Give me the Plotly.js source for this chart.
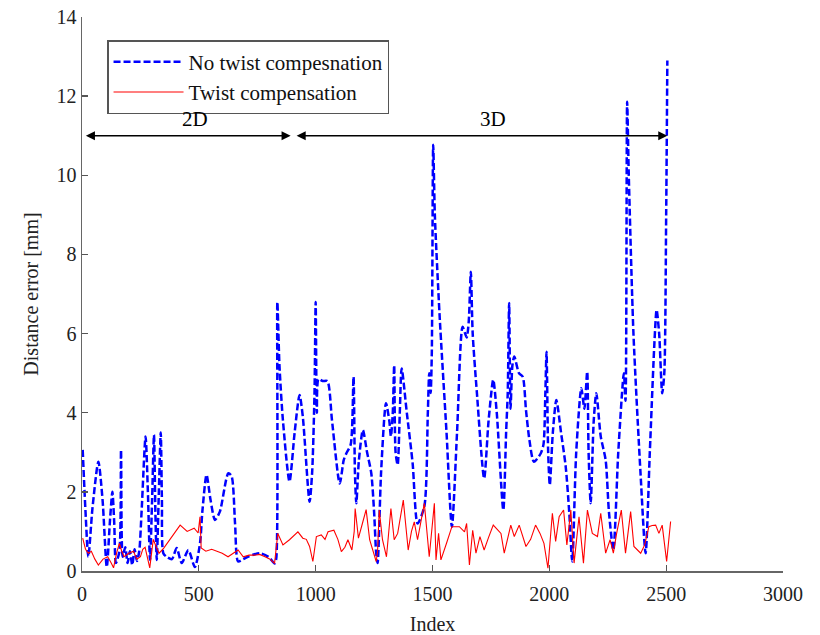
<!DOCTYPE html>
<html>
<head>
<meta charset="utf-8">
<script src="https://cdn.plot.ly/plotly-3.0.1.min.js"></script>
<style>html,body{margin:0;padding:0;background:#fff;}#chart{width:820px;height:635px;}</style>
</head>
<body>
<div id="chart"></div>
<script>
// "No twist compesnation" (blue dashed)
const blueX = [3,15,27,45,70,88,106,120,130,138,145,160,167,174,185,195,205,215,225,235,245,255,272,282,291,300,308,314,320,328,337,342,348,362,385,405,427,455,483,505,515,533,550,569,590,626,640,655,668,690,710,760,800,824,831,836,845,860,888,910,931,945,974,985,995,1000,1005,1012,1030,1050,1070,1103,1120,1131,1150,1162,1168,1174,1185,1202,1220,1238,1250,1259,1265,1280,1301,1315,1322,1330,1336,1342,1351,1360,1368,1390,1415,1436,1465,1480,1486,1492,1497,1503,1510,1530,1560,1583,1605,1629,1646,1655,1664,1672,1690,1721,1740,1760,1775,1803,1815,1822,1828,1834,1842,1850,1870,1886,1900,1915,1934,1963,1975,1983,1988,1995,2002,2015,2030,2050,2070,2085,2098,2115,2137,2150,2162,2168,2177,2190,2201,2220,2241,2255,2274,2295,2319,2326,2333,2340,2360,2390,2412,2430,2450,2459,2470,2483,2492,2500,2505];
const blueY = [3.06,1.5,0.36,1.6,2.76,1.8,0.1,1.3,2.0,1.2,0.2,0.5,3.06,0.36,0.6,0.2,0.5,0.15,0.55,0.25,0.5,1.5,3.4,2.0,0.28,1.8,3.44,1.5,0.28,1.8,3.5,1.8,0.45,0.36,0.3,0.58,0.2,0.53,0.1,0.7,1.5,2.43,1.8,1.29,1.5,2.47,2.4,1.2,0.24,0.3,0.36,0.45,0.35,0.19,0.3,6.8,5.2,3.8,2.26,3.5,4.45,3.9,1.75,2.5,4.5,6.8,4.0,4.85,4.8,4.8,3.8,2.21,2.8,2.97,3.2,4.91,2.5,1.71,2.8,3.56,3.0,2.47,1.5,0.45,0.2,2.5,4.24,3.8,3.4,4.0,5.2,3.0,2.68,4.0,5.12,4.0,2.72,1.2,1.63,4.0,5.0,4.5,5.5,10.77,9.0,6.5,3.5,1.12,3.5,6.17,5.9,6.3,7.56,6.0,4.5,2.34,3.8,4.83,4.0,1.54,3.5,4.5,6.77,4.1,5.2,5.42,5.0,4.91,4.07,3.3,2.76,2.97,3.2,4.5,5.54,3.0,2.17,3.5,4.32,3.5,2.64,1.5,0.24,3.0,4.62,4.1,5.04,3.0,1.71,3.8,4.49,3.4,2.8,1.5,0.53,3.0,5.0,4.3,11.86,10.0,6.0,2.5,0.45,3.0,5.8,6.6,6.0,4.49,5.0,9.0,12.9];

// "Twist compensation" (red solid)
const redX = [3,15,27,40,55,70,90,110,125,135,148,160,170,180,200,220,235,250,260,270,290,305,318,330,350,365,380,400,420,450,480,497,503,505,510,530,555,580,600,625,650,668,690,715,740,760,783,805,824,830,838,860,888,924,945,960,974,988,1003,1024,1040,1053,1078,1095,1110,1125,1138,1155,1165,1169,1183,1200,1216,1231,1245,1259,1265,1272,1286,1303,1322,1336,1351,1375,1396,1410,1422,1436,1465,1486,1508,1515,1526,1536,1560,1583,1615,1637,1646,1658,1672,1686,1703,1721,1740,1760,1793,1807,1835,1850,1871,1900,1920,1941,1960,1977,1994,2013,2027,2042,2061,2075,2092,2106,2127,2146,2163,2184,2206,2220,2241,2260,2274,2288,2308,2326,2348,2362,2391,2408,2426,2440,2455,2469,2483,2502,2519];
const redY = [0.83,0.55,0.45,0.5,0.3,0.15,0.3,0.36,0.2,0.08,0.45,0.7,0.5,0.36,0.45,0.5,0.3,0.36,0.55,0.6,0.08,0.8,0.6,0.45,0.58,0.7,0.83,1.0,1.16,1.0,1.08,0.96,1.2,1.37,0.58,0.5,0.55,0.5,0.45,0.36,0.45,0.53,0.36,0.4,0.4,0.42,0.36,0.3,0.19,0.5,0.95,0.66,0.79,0.99,0.83,0.8,0.62,0.24,0.87,0.91,0.8,0.99,1.03,0.8,0.49,0.6,0.79,0.53,1.0,1.58,0.83,1.2,1.55,0.79,0.5,0.24,0.5,1.54,0.79,0.36,1.58,0.79,0.95,1.79,0.53,1.0,1.24,0.79,1.71,0.36,1.71,0.28,0.95,0.28,0.7,1.12,1.12,0.99,1.2,0.15,1.03,0.45,0.87,0.53,0.85,1.16,0.95,0.45,1.16,0.87,1.16,0.62,0.8,1.16,0.95,0.7,0.07,1.46,0.75,1.37,1.54,0.66,1.54,0.2,1.37,0.2,1.54,0.95,0.87,1.46,0.45,0.79,0.45,0.95,1.54,0.45,1.5,0.62,0.45,0.66,1.12,1.15,1.16,0.95,1.16,0.24,1.25];

const seriesNames = ["No twist compesnation", "Twist compensation"];
const xTicks = [0,500,1000,1500,2000,2500,3000];
const yTicks = [0,2,4,6,8,10,12,14];
const segments = [{label:"2D", from:10, to:893, labelX:483}, {label:"3D", from:912, to:2505, labelX:1759}];
const arrowLevel = 11;

const FONT = "Liberation Serif, Times New Roman, serif";

const traces = [
  {x: blueX, y: blueY, name: seriesNames[0], type: 'scatter', mode: 'lines',
   line: {color: '#0000ff', width: 2.5, dash: '7px,3px', shape: 'spline', smoothing: 0.7}},
  {x: redX, y: redY, name: seriesNames[1], type: 'scatter', mode: 'lines',
   line: {color: '#ff0000', width: 1.1}}
];

const annotations = [];
segments.forEach(s => {
  annotations.push({x: s.to, y: arrowLevel, ax: s.from, ay: arrowLevel, xref:'x', yref:'y', axref:'x', ayref:'y',
    text: '', showarrow: true, arrowside: 'end+start', arrowhead: 2, arrowsize: 1.3, arrowwidth: 1.4, arrowcolor: '#000'});
  annotations.push({x: s.labelX, y: arrowLevel + 0.42, xref:'x', yref:'y', text: s.label, showarrow: false,
    font: {family: FONT, size: 21, color: '#000'}});
});

const axisCommon = {showgrid: false, zeroline: false, showline: true, linecolor: '#666', linewidth: 1.5,
  ticks: 'inside', ticklen: 6, tickcolor: '#555', tickwidth: 1.3, mirror: false,
  tickfont: {family: FONT, size: 20, color: '#222'}};

const layout = {
  width: 820, height: 635,
  margin: {l: 82, r: 37, t: 17, b: 64},
  paper_bgcolor: '#fff', plot_bgcolor: '#fff',
  showlegend: true,
  legend: {x: 0.036, y: 0.958, xanchor: 'left', yanchor: 'top', bgcolor: '#fff', bordercolor: '#555', borderwidth: 1.3,
    font: {family: FONT, size: 21, color: '#111'}, tracegroupgap: 0, itemwidth: 70},
  xaxis: Object.assign({}, axisCommon, {range: [0, 3000], tickvals: xTicks, ticktext: xTicks.map(String),
    ticklabelstandoff: 4,
    title: {text: 'Index', font: {family: FONT, size: 20, color: '#222'}, standoff: 14}}),
  yaxis: Object.assign({}, axisCommon, {range: [0, 14], tickvals: yTicks, ticktext: yTicks.map(String),
    title: {text: 'Distance error [mm]', font: {family: FONT, size: 20, color: '#222'}, standoff: 12}}),
  annotations: annotations
};

Plotly.newPlot('chart', traces, layout, {displayModeBar: false, staticPlot: true});
</script>
</body>
</html>
